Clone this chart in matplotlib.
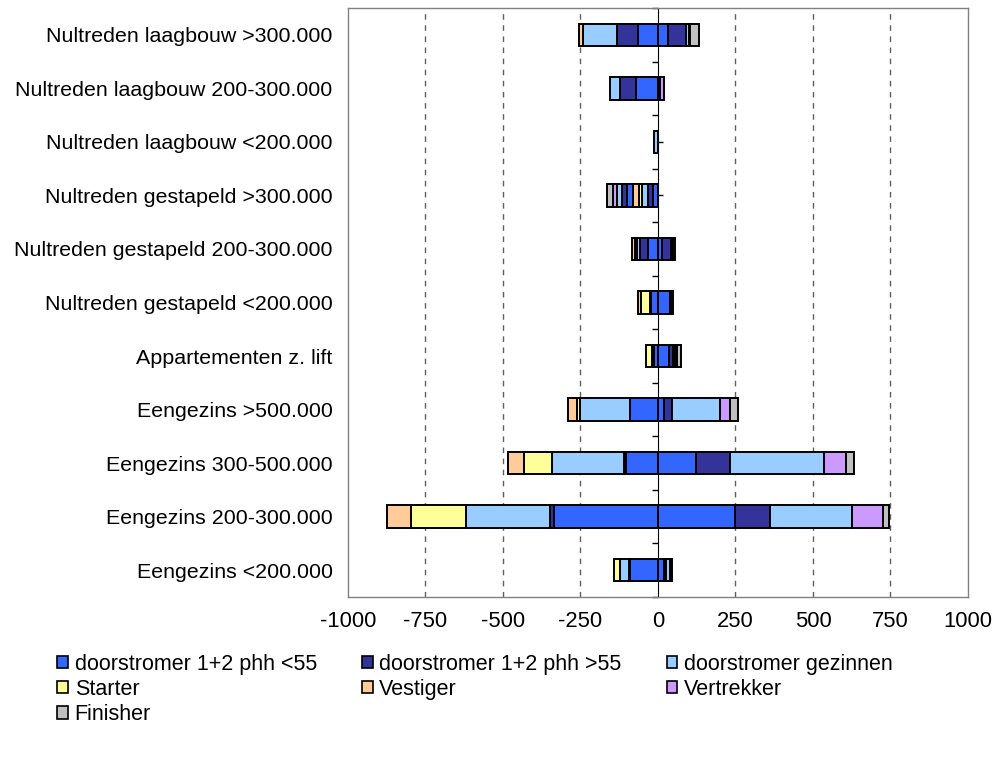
import numpy as np
import matplotlib.pyplot as plt
from matplotlib.patches import Patch

plt.rcParams['font.family'] = ['Liberation Sans', 'DejaVu Sans']
plt.rcParams['axes.unicode_minus'] = False

categories = [
    "Nultreden laagbouw >300.000",
    "Nultreden laagbouw 200-300.000",
    "Nultreden laagbouw <200.000",
    "Nultreden gestapeld >300.000",
    "Nultreden gestapeld 200-300.000",
    "Nultreden gestapeld <200.000",
    "Appartementen z. lift",
    "Eengezins >500.000",
    "Eengezins 300-500.000",
    "Eengezins 200-300.000",
    "Eengezins <200.000",
]

# vraag (negatief)
lt55_in = [-65, -70, 0, -16, -32, -22, -14, -91, -104, -334, -90]
gt55_in = [-68, -52, 0, -17, -25, -4, -3, 0, -4, -14, -4]
gezin_in = [-110, -32, -13, -19, -9, 0, -2, -159, -233, -270, -27]
starter = [0, 0, 0, -10, -8, -30, -18, -11, -90, -179, -22]
vestiger = [-13, 0, 0, -19, -10, -8, 0, -29, -53, -78, 0]

# aanbod (positief)
lt55_uit = [31, 5, 0, -18, 14, 38, 36, 18, 122, 247, 20]
gt55_uit = [58, 3, 0, -16, 27, 4, 14, 27, 112, 115, 6]
gezin_uit = [10, 0, 0, -18, 4, 0, 4, 154, 302, 263, 12]
vertrekker = [3, 12, 0, -13, 3, 0, 6, 35, 70, 100, 3]
finisher = [32, 0, 0, -19, 6, 6, 13, 23, 28, 19, 5]

c_lt55 = "#3366FF"
c_gt55 = "#333399"
c_gezin = "#99CCFF"
c_starter = "#FFFF99"
c_vestiger = "#FFCC99"
c_vertrekker = "#CC99FF"
c_finisher = "#C0C0C0"

series = [
    (lt55_in, c_lt55), (gt55_in, c_gt55), (gezin_in, c_gezin),
    (starter, c_starter), (vestiger, c_vestiger),
    (lt55_uit, c_lt55), (gt55_uit, c_gt55), (gezin_uit, c_gezin),
    (vertrekker, c_vertrekker), (finisher, c_finisher),
]

fig = plt.figure(figsize=(9.95, 7.57), dpi=100)
ax = fig.add_axes([0.3497, 0.2114, 0.6231, 0.7780])

y = np.arange(len(categories))
neg_left = np.zeros(len(categories))
pos_left = np.zeros(len(categories))
for vals, color in series:
    vals = np.array(vals, dtype=float)
    neg = vals < 0
    pos = vals > 0
    ax.barh(y[neg], vals[neg], left=neg_left[neg], height=0.42, color=color,
            edgecolor="black", linewidth=1.4, zorder=3)
    ax.barh(y[pos], vals[pos], left=pos_left[pos], height=0.42, color=color,
            edgecolor="black", linewidth=1.4, zorder=3)
    neg_left[neg] += vals[neg]
    pos_left[pos] += vals[pos]

ax.set_xlim(-1000, 1000)
ax.set_ylim(len(categories) - 0.5, -0.5)
ax.set_xticks(range(-1000, 1001, 250))
ax.set_yticks(y, categories)
ax.tick_params(axis="x", length=0, labelsize=15.8, pad=10)
ax.tick_params(axis="y", length=0, labelsize=15.4, pad=11)

for v in [-750, -500, -250, 250, 500, 750]:
    ax.axvline(v, color="#606060", lw=1, ls=(0, (4, 4)), zorder=1)

for s in ax.spines.values():
    s.set_color("#808080")
    s.set_linewidth(1)

# as bij x = 0
zero = ax.secondary_yaxis(0.5)
zero.yaxis.set_ticks_position("left")
zero.set_yticks(np.arange(len(categories) + 1) - 0.5, labels=[])
zero.set_yticks(y, minor=True)
zero.tick_params(which="major", direction="out", length=4, width=1, color="black")
zero.tick_params(which="minor", direction="in", length=3.5, width=1, color="black")
zero.spines["left"].set_color("black")
zero.spines["left"].set_linewidth(1)

labels = ["doorstromer 1+2 phh <55", "doorstromer 1+2 phh >55", "doorstromer gezinnen",
          "Starter", "Vestiger", "Vertrekker", "Finisher"]
colors = [c_lt55, c_gt55, c_gezin, c_starter, c_vestiger, c_vertrekker, c_finisher]
order = [0, 3, 6, 1, 4, 2, 5]
handles = [Patch(facecolor=colors[i], edgecolor="black", linewidth=1.2) for i in order]
fig.legend(handles, [labels[i] for i in order], loc="upper left",
           bbox_to_anchor=(0.049, 0.148), ncol=3, frameon=False, fontsize=15.5,
           handlelength=0.5, handleheight=0.5, handletextpad=0.3,
           columnspacing=2.1, labelspacing=0.2, borderaxespad=0)

fig.savefig("out.png", dpi=100)
